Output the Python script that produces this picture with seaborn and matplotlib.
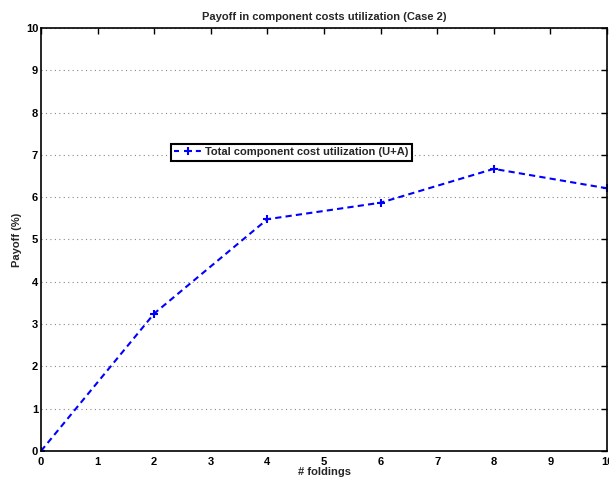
import matplotlib
matplotlib.use("Agg")
import matplotlib.pyplot as plt
import seaborn as sns
import pandas as pd

foldings = [0, 2, 4, 6, 8, 10]
payoff = [0.0, 3.25, 5.48, 5.87, 6.67, 6.21]
series_name = "Total component cost utilization (U+A)"
x_ticks = list(range(0, 11))
y_ticks = list(range(0, 11))

sns.set_style("white")
plt.rcParams['font.family'] = ['Liberation Sans', 'DejaVu Sans']
plt.rcParams['font.weight'] = 'bold'

df = pd.DataFrame({"foldings": foldings, "payoff": payoff, "series": series_name})

fig = plt.figure(figsize=(6.09, 4.82), dpi=100)
ax = fig.add_axes([41/609, 1-451/482, (607-41)/609, (451-28)/482])

sns.lineplot(data=df, x="foldings", y="payoff", hue="series", palette=["#0000ff"],
             marker="+", markersize=5.5, markeredgewidth=1.5,
             markeredgecolor="#0000ff", linewidth=1.5,
             dashes=False, ax=ax)
for l in ax.lines:
    l.set_linestyle((0, (3, 2)))

ax.set_xlim(0, 10)
ax.set_ylim(0, 10)
ax.set_xticks(x_ticks)
ax.set_yticks(y_ticks)
fs = 8
ax.tick_params(direction="in", length=4, width=1, labelsize=fs, top=True, right=True,
               pad=2, colors="black")
ax.tick_params(axis="x", pad=4)
for lab in ax.get_xticklabels() + ax.get_yticklabels():
    lab.set_fontweight("bold")
ax.yaxis.grid(True, linestyle=(0, (1, 3)), color="#888888", linewidth=0.8)
ax.xaxis.grid(False)
for s in ax.spines.values():
    s.set_visible(True)
    s.set_color("black")
    s.set_linewidth(1.2)

ax.set_xlabel("# foldings", fontsize=fs, fontweight="bold", labelpad=0)
ax.set_ylabel("Payoff (%)", fontsize=fs, fontweight="bold", labelpad=3)
ax.set_title("Payoff in component costs utilization (Case 2)", fontsize=fs,
             fontweight="bold", pad=6)

leg = ax.legend(loc="upper left", bbox_to_anchor=(0.2297, 0.7258), fontsize=fs,
                frameon=True, fancybox=False, handlelength=2.4, handletextpad=0.35,
                borderpad=0.3, borderaxespad=0)
leg.get_frame().set_edgecolor("black")
leg.get_frame().set_linewidth(1.5)
leg.get_frame().set_alpha(1)
for t in leg.get_texts():
    t.set_fontweight("bold")
for h in leg.get_lines():
    h.set_linestyle((0, (2.4, 8.1)))

fig.savefig("out.png", dpi=100)
